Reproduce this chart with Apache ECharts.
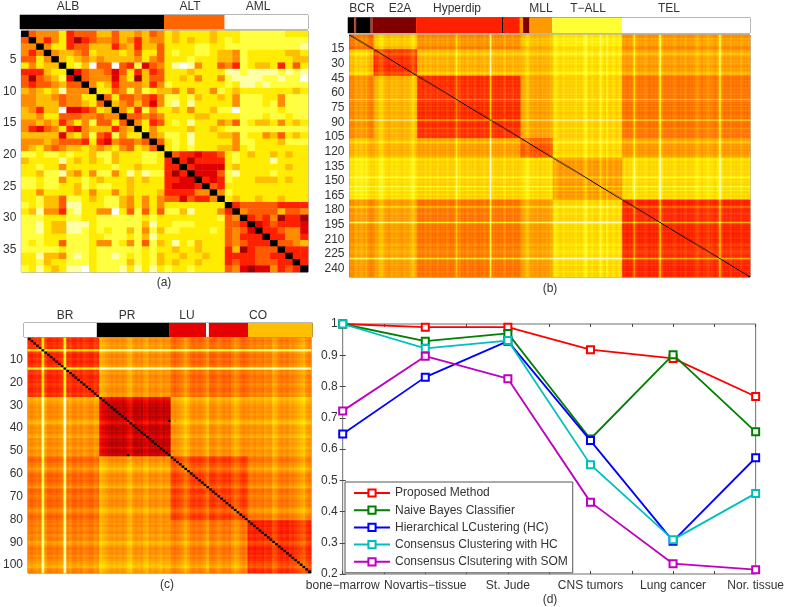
<!DOCTYPE html>
<html>
<head>
<meta charset="utf-8">
<title>Consensus matrices and accuracy</title>
<style>
  html, body { margin: 0; padding: 0; background: #fff; }
  #main { width: 787px; height: 607px; filter: blur(0.4px); }
</style>
<script src="https://cdn.jsdelivr.net/npm/echarts@6/dist/echarts.min.js"></script>
</head>
<body>
<div id="main"></div>
<script>
// level scale used by all three matrices: 0 black ... 10 white
const hotColors = ['#000000', '#a00000', '#e00000', '#ff2000', '#ff5a00', '#ff8c00', '#ffbe00', '#ffec00', '#ffff40', '#ffffa8', '#ffffff']

// panel (a) read cell by cell, ALB | ALT | AML (a = white)
const aRows = [
  '0455573444664665645 76777767 77888888777',
  '4053573134554653655 76767767 87888888888',
  '5505773446663563664 77778877 88888888889',
  '5350566547666764774 78778876 65877777667',
  '4475067656566665754 77787776 65877777766',
  '757660786a44a438245 79a95774 53876673747',
  '3336770245542473634 77767777 99899998989',
  '4145682045552571644 77675775 8999988988a',
  '4344564405763555635 87777777 87998988888',
  '6567695550774585876 65757758 76777777767',
  '5566545577047445435 88786776 75888775888',
  '5566645567406546425 89797777 75888785888',
  '65366a2234760573857 76757768 8a888887888',
  '6657744455455044545 77776677 77888788788',
  '5565635758447405734 78797775 64876675767',
  '5324573256663560757 77767767 88888888888',
  '6666626758438577056 88797776 65877564767',
  '5556544437325445404 78797777 75887776888',
  '5675456676567547640 78787776 65787777777',
  '8878878776886777887 04332334 78767767677',
  '6777797676786777887 30313333 78777797777',
  '7787757777778776777 33032222 76777777677',
  '7768896575885797988 31302224 89777787777',
  '8878857787677767677 33220323 87776667677',
  '8878877687887767777 32223043 77777777777',
  '7757777675775767776 33335505 87777777777',
  '7786648876788657575 44243350 76776776777',
  '8786649977788657575 77777777 03444443333',
  '769553897755a748474 88697775 30544446445',
  '8887778877888888787 77777778 45034351331',
  '8897669997888888697 78887777 44302343332',
  '8897669987878868586 88777787 45420334552',
  '8887778887788878697 77777777 45333033553',
  '8787748887558758486 79786777 45433304456',
  '8888878887888888787 76776777 36134440333',
  '7796658987889878786 77677677 33334433033',
  '7786778887888868786 76776777 34334443303',
  '87976799a7888979797 87787777 45212253430'
]
const aTicks = [5, 10, 15, 20, 25, 30, 35]
const aGroups = ['ALB', 'ALT', 'AML']
const aRunSizes = [19, 8, 11]
const aRunColors = ['#000000', '#ff6600', '#ffffff']

// panel (b): level of each class block, and a per-sample lightness profile
const bGroups = ['BCR', 'E2A', 'Hyperdip', 'MLL', 'T\u2212ALL', 'TEL']
const bSizes = [15, 27, 64, 20, 43, 79]
const bBlocks = [
  [4.0, 5.8, 4.8, 5.5, 6.5, 5.0],
  [5.8, 3.2, 5.8, 5.7, 6.5, 5.4],
  [4.8, 5.8, 3.4, 5.4, 6.3, 4.7],
  [5.5, 5.7, 5.4, 3.8, 6.3, 5.3],
  [6.5, 6.5, 6.3, 6.3, 4.9, 6.5],
  [5.0, 5.4, 4.7, 5.3, 6.5, 3.3]
]
const bProfile = [
  '454675676575434',
  '354677544345445443454456864',
  '434345345343543443543435' + 'a46' + '343453435433435434' + 'h' + '453434356343453434',
  '45578645445435445465',
  '5765446545' + '4545645457' + '9645645459' + '6548545654' + '564',
  '3433435b54' + '3434543343' + '436f643434' + '3454334345' + '3343456543' + '5456454346' + 'f643434534' + '343543434'
]
const bTicks = [15, 30, 45, 60, 75, 90, 105, 120, 135, 150, 165, 180, 195, 210, 225, 240]
const bRunSizes = [4, 1, 9, 1, 27, 53, 1, 10, 2, 4, 14, 43, 79]
const bRunColors = ['#000000', '#ff2000', '#000000', '#ff2000', '#800000', '#ff2000', '#000000', '#ff2000', '#ff9900', '#800000', '#ff9900', '#ffff33', '#ffffff']

// panel (c)
const cGroups = ['BR', 'PR', 'LU', 'CO']
const cSizes = [26, 26, 28, 23]
const cBlocks = [
  [3.3, 5.2, 4.4, 4.8],
  [5.2, 1.7, 5.2, 5.3],
  [4.4, 5.2, 3.6, 4.7],
  [4.8, 5.3, 4.7, 3.1]
]
const cProfile = [
  '43454i5334345k453343543354',
  '76543434346743435634345344',
  '4345686434345733454343576434',
  '34344354476434354567854'
]
const cDarkCells = [[36, 51], [51, 36]]
const cTicks = [10, 20, 30, 40, 50, 60, 70, 80, 90, 100]
const cRunSizes = [26, 26, 13, 1, 14, 23]
const cRunColors = ['#ffffff', '#000000', '#e60000', '#ffffff', '#e60000', '#ffbf00']

// panel (d)
const datasets = ['bone\u2212marrow', 'Novartis\u2212tissue', 'St. Jude', 'CNS tumors', 'Lung cancer', 'Nor. tissue']
const methodNames = ['Proposed Method', 'Naive Bayes Classifier', 'Hierarchical LCustering (HC)', 'Consensus Clustering with HC', 'Consensus Clsutering with SOM']
const proposed = [1, 0.99, 0.99, 0.918, 0.89, 0.768]
const naiveBayes = [1, 0.945, 0.97, 0.632, 0.902, 0.655]
const hierarchical = [0.648, 0.83, 0.945, 0.627, 0.305, 0.572]
const consensusHC = [1, 0.922, 0.947, 0.55, 0.31, 0.458]
const consensusSOM = [0.722, 0.897, 0.825, 0.43, 0.233, 0.214]
const methodColors = ['#ff0000', '#008000', '#0000ff', '#00bfbf', '#bf00bf']

const fontFamily = '"Liberation Sans", Arial, sans-serif'
const textColor = '#333'
const frameColor = '#6e6e6e'

function labels(n) {
  return Array.from({ length: n }, (_, i) => String(i + 1))
}

function rowsToCells(rows) {
  const cells = []
  rows.forEach((row, y) => {
    row.replace(/ /g, '').split('').forEach((ch, x) => cells.push([x, y, parseInt(ch, 36)]))
  })
  return cells
}

function blocksToCells(sizes, blocks, profile, darkCells) {
  const groupOf = []
  sizes.forEach((size, g) => { for (let k = 0; k < size; k++) groupOf.push(g) })
  const shift = profile.join('').split('').map(ch => (parseInt(ch, 36) - 4) * 0.25)
  const dark = new Set((darkCells || []).map(p => p[0] + '_' + p[1]))
  const cells = []
  groupOf.forEach((gy, y) => {
    groupOf.forEach((gx, x) => {
      let level = blocks[gy][gx] + (shift[y] || 0) + (shift[x] || 0)
      level = Math.min(10, Math.max(0.8, level))
      if (x === y || dark.has(x + '_' + y)) level = 0
      cells.push([x, y, level])
    })
  })
  return cells
}

const grids = []
const xAxes = []
const yAxes = []
const series = []

function addMatrix(box, n, ticks, cells) {
  const gridIndex = grids.length
  const names = labels(n)
  const picked = (i, v) => ticks.indexOf(+v) >= 0
  grids.push(Object.assign({ show: true, borderColor: frameColor, borderWidth: 1, backgroundColor: 'transparent' }, box))
  xAxes.push({
    type: 'category', gridIndex, data: names, show: false
  })
  const yBase = {
    type: 'category', gridIndex, data: names, inverse: true,
    axisLine: { show: false },
    axisTick: { show: true, inside: true, length: 3, alignWithLabel: true, interval: picked, lineStyle: { color: '#444' } }
  }
  yAxes.push(Object.assign({}, yBase, {
    position: 'left',
    axisLabel: { show: true, interval: picked, color: textColor, fontFamily, fontSize: 12, margin: 5 }
  }))
  yAxes.push(Object.assign({}, yBase, { position: 'right', axisLabel: { show: false } }))
  series.push({
    type: 'heatmap', xAxisIndex: xAxes.length - 1, yAxisIndex: yAxes.length - 2,
    data: cells, silent: true, progressive: 0, animation: false, z: 1
  })
}

function addRunBar(box, sizes, colors) {
  const gridIndex = grids.length
  grids.push(Object.assign({ show: true, borderColor: frameColor, borderWidth: 1, backgroundColor: 'transparent' }, box))
  const total = sizes.reduce((a, b) => a + b, 0)
  xAxes.push({ type: 'value', gridIndex, min: 0, max: total, show: false })
  yAxes.push({ type: 'category', gridIndex, data: ['class'], show: false })
  sizes.forEach((size, i) => {
    series.push({
      type: 'bar', xAxisIndex: xAxes.length - 1, yAxisIndex: yAxes.length - 1,
      stack: 'run' + gridIndex, barWidth: '100%', silent: true, data: [size],
      itemStyle: { color: colors[i] }
    })
  })
}

addMatrix({ left: 20.5, top: 31, width: 287.5, height: 241 }, 38, aTicks, rowsToCells(aRows))
addMatrix({ left: 349.5, top: 35, width: 400.5, height: 242 }, 248, bTicks, blocksToCells(bSizes, bBlocks, bProfile))
addMatrix({ left: 24, top: 338, width: 287, height: 235 }, 103, cTicks, blocksToCells(cSizes, cBlocks, cProfile, cDarkCells))
const matrixCount = series.length

addRunBar({ left: 20, top: 15, width: 288, height: 14 }, aRunSizes, aRunColors)
addRunBar({ left: 348, top: 17.5, width: 402, height: 15.5 }, bRunSizes, bRunColors)
addRunBar({ left: 24, top: 323, width: 288.5, height: 14 }, cRunSizes, cRunColors)

// line panel
const lineGrid = grids.length
grids.push({ show: true, left: 342.7, top: 324, width: 414, height: 250, borderColor: frameColor, borderWidth: 1, backgroundColor: 'transparent' })
const lineXBase = {
  type: 'value', gridIndex: lineGrid, min: 0, max: 5, interval: 0.5,
  splitLine: { show: false }, axisLine: { show: false },
  axisTick: { show: true, inside: true, length: 3, lineStyle: { color: '#444' } }
}
xAxes.push(Object.assign({}, lineXBase, {
  position: 'bottom',
  axisLabel: {
    color: textColor, fontFamily, fontSize: 12, margin: 6, hideOverlap: false, showMinLabel: true, showMaxLabel: true,
    formatter: v => (Number.isInteger(v) ? datasets[v] : '')
  }
}))
xAxes.push(Object.assign({}, lineXBase, { position: 'top', axisLabel: { show: false } }))
const lineYBase = {
  type: 'value', gridIndex: lineGrid, min: 0.2, max: 1, interval: 0.1,
  splitLine: { show: false }, axisLine: { show: false },
  axisTick: { show: true, inside: true, length: 3, lineStyle: { color: '#444' } }
}
yAxes.push(Object.assign({}, lineYBase, {
  position: 'left',
  axisLabel: { color: textColor, fontFamily, fontSize: 12, margin: 5, formatter: v => (v >= 0.999 ? '1' : v.toFixed(1)) }
}))
yAxes.push(Object.assign({}, lineYBase, { position: 'right', axisLabel: { show: false } }))

;[proposed, naiveBayes, hierarchical, consensusHC, consensusSOM].forEach((values, i) => {
  series.push({
    name: methodNames[i], type: 'line', xAxisIndex: xAxes.length - 2, yAxisIndex: yAxes.length - 2,
    data: values.map((v, k) => [k, v]),
    symbol: 'emptyRect', symbolSize: 7, showAllSymbol: true, silent: true, clip: false, z: 3 + i,
    lineStyle: { color: methodColors[i], width: 1.8 },
    itemStyle: { color: methodColors[i], borderColor: methodColors[i], borderWidth: 1.6 }
  })
})

function caption(text, x, y) {
  return {
    type: 'text', x, y, silent: true, z: 20,
    style: { text, fill: textColor, font: '12px ' + fontFamily, textAlign: 'center', textVerticalAlign: 'middle' }
  }
}

const aLabelX = [68, 190, 258]
const bLabelX = [362, 400, 457, 541, 588, 669]
const cLabelX = [65, 127, 187, 258]
const graphics = []
aGroups.forEach((t, i) => graphics.push(caption(t, aLabelX[i], 7)))
bGroups.forEach((t, i) => graphics.push(caption(t, bLabelX[i], 9)))
cGroups.forEach((t, i) => graphics.push(caption(t, cLabelX[i], 316)))
graphics.push(caption('(a)', 164, 283), caption('(b)', 550, 289), caption('(c)', 167, 585), caption('(d)', 550, 600))

const chart = echarts.init(document.getElementById('main'), null, { renderer: 'canvas' })
chart.setOption({
  animation: false,
  backgroundColor: '#fff',
  textStyle: { fontFamily },
  grid: grids,
  xAxis: xAxes,
  yAxis: yAxes,
  series,
  visualMap: {
    show: false, type: 'continuous', min: 0, max: 10, dimension: 2,
    seriesIndex: Array.from({ length: matrixCount }, (_, i) => i),
    inRange: { color: hotColors }
  },
  legend: {
    data: methodNames, orient: 'vertical', left: 345, top: 482, z: 30,
    backgroundColor: '#fff', borderColor: '#555', borderWidth: 1,
    padding: [5, 5, 5, 8], itemWidth: 36, itemHeight: 9, itemGap: 5.2,
    selectedMode: false,
    textStyle: { color: textColor, fontFamily, fontSize: 12 }
  },
  graphic: graphics
})
</script>
</body>
</html>
